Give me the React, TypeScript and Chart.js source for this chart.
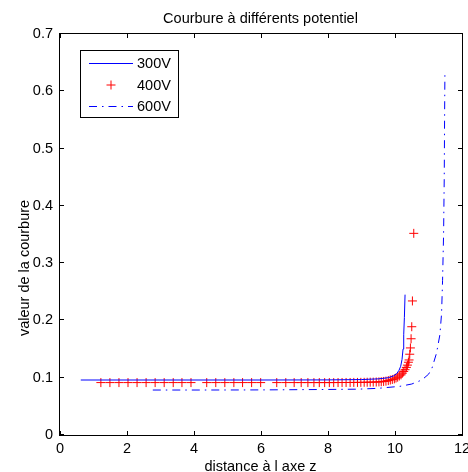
import React, { useEffect, useRef } from "react";
import { Chart, registerables } from "chart.js";

Chart.register(...registerables);

const TITLE = "Courbure à différents potentiel";
const X_LABEL = "distance à l axe z";
const Y_LABEL = "valeur de la courbure";
const SERIES_NAMES = ["300V", "400V", "600V"];
const X_TICKS = [0, 2, 4, 6, 8, 10, 12];
const Y_TICKS = [0, 0.1, 0.2, 0.3, 0.4, 0.5, 0.6, 0.7];

// 300V – solid line
const x300 = [0.62, 2, 4, 6, 8, 9, 9.5, 9.8, 9.95, 10.05, 10.12, 10.17, 10.21, 10.24, 10.26, 10.28, 10.3];
const y300 = [0.096, 0.096, 0.096, 0.096, 0.0962, 0.0968, 0.098, 0.1, 0.103, 0.107, 0.113, 0.12, 0.132, 0.15, 0.175, 0.205, 0.245];

// 400V – red plus markers
const x400 = [1.22, 1.49, 1.76, 2.03, 2.3, 2.57, 2.84, 3.11, 3.38, 3.64, 3.91, 4.38, 4.65, 4.92, 5.19, 5.45, 5.72, 5.99,
  6.47, 6.74, 6.99, 7.2, 7.4, 7.58, 7.74, 7.9, 8.04, 8.17, 8.3, 8.42, 8.54, 8.66, 8.77, 8.88, 8.98, 9.08, 9.17, 9.26,
  9.35, 9.44, 9.52, 9.59, 9.66, 9.73, 9.8, 9.86, 9.92, 9.98, 10.03, 10.08, 10.13, 10.18, 10.22, 10.26, 10.3, 10.34,
  10.37, 10.4, 10.42, 10.44, 10.46, 10.48, 10.5, 10.52, 10.56];
const y400 = [0.0915, 0.0915, 0.0915, 0.0915, 0.0915, 0.0915, 0.0915, 0.0915, 0.0915, 0.0915, 0.0915, 0.0915, 0.0915,
  0.0915, 0.0915, 0.0915, 0.0915, 0.0915, 0.0915, 0.0915, 0.0915, 0.0915, 0.0915, 0.0915, 0.0915, 0.0915, 0.0915,
  0.0915, 0.0916, 0.0916, 0.0917, 0.0917, 0.0918, 0.0918, 0.0919, 0.092, 0.0921, 0.0922, 0.0923, 0.0925, 0.0927,
  0.093, 0.0935, 0.094, 0.095, 0.096, 0.097, 0.098, 0.0995, 0.101, 0.103, 0.105, 0.108, 0.111, 0.114, 0.118, 0.122,
  0.127, 0.131, 0.141, 0.152, 0.168, 0.189, 0.234, 0.352];

// 600V – dash-dot line
const x600 = [2.77, 4, 6, 8, 8.9, 9.5, 10.15, 10.5, 10.8, 11.0, 11.1, 11.24, 11.34, 11.39, 11.42, 11.45, 11.47, 11.48, 11.49];
const y600 = [0.0785, 0.0785, 0.0787, 0.0795, 0.08, 0.0815, 0.085, 0.089, 0.096, 0.106, 0.116, 0.143, 0.175, 0.212, 0.27, 0.35, 0.45, 0.55, 0.634];

const FONT = "Arial, 'Liberation Sans', Helvetica, sans-serif";
const FSIZE = 14.5;
const BLUE = "rgb(0,0,255)";
const RED = "rgb(255,0,0)";
const DASH = [8, 5, 1.5, 5];

const pts = (xs: number[], ys: number[]) => xs.map((x, i) => ({ x, y: ys[i] }));

const decorPlugin = {
  id: "decor",
  afterDatasetsDraw(chart: any) {
    const ctx = chart.ctx;
    const { left, right, top, bottom } = chart.chartArea;
    const xs = chart.scales.x;
    const ys = chart.scales.y;
    ctx.save();
    ctx.strokeStyle = "#000";
    ctx.lineWidth = 1;
    ctx.setLineDash([]);
    ctx.strokeRect(left - 0.5, top - 0.5, right - left + 1, bottom - top + 1);
    const tl = 4;
    ctx.beginPath();
    X_TICKS.forEach((v) => {
      const px = Math.round(xs.getPixelForValue(v)) + 0.5;
      ctx.moveTo(px, bottom);
      ctx.lineTo(px, bottom - tl);
      ctx.moveTo(px, top);
      ctx.lineTo(px, top + tl);
    });
    Y_TICKS.forEach((v) => {
      const py = Math.round(ys.getPixelForValue(v)) - 0.5;
      ctx.moveTo(left, py);
      ctx.lineTo(left + tl, py);
      ctx.moveTo(right, py);
      ctx.lineTo(right - tl, py);
    });
    ctx.stroke();

    // title & axis labels
    ctx.fillStyle = "#000";
    ctx.font = `${FSIZE}px ${FONT}`;
    ctx.textAlign = "center";
    ctx.textBaseline = "alphabetic";
    ctx.fillText(TITLE, 260.5, 22.5);
    ctx.fillText(X_LABEL, 260.5, 470.5);
    ctx.save();
    ctx.translate(29, 268);
    ctx.rotate(-Math.PI / 2);
    ctx.fillText(Y_LABEL, 0, 0);
    ctx.restore();

    // legend
    const lx = 80.5, ly = 50.5, lw = 98, lh = 67;
    ctx.fillStyle = "#fff";
    ctx.fillRect(lx, ly, lw, lh);
    ctx.strokeStyle = "#000";
    ctx.strokeRect(lx, ly, lw, lh);
    const rows = [63.5, 85, 106.5];
    const ds = chart.data.datasets;
    rows.forEach((ry, i) => {
      const d = ds[i];
      ctx.save();
      if (i === 1) {
        ctx.strokeStyle = RED;
        ctx.beginPath();
        ctx.moveTo(111 - 4.5, ry);
        ctx.lineTo(111 + 4.5, ry);
        ctx.moveTo(111, ry - 4.5);
        ctx.lineTo(111, ry + 4.5);
        ctx.stroke();
      } else {
        ctx.strokeStyle = BLUE;
        ctx.setLineDash(i === 2 ? DASH : []);
        ctx.beginPath();
        ctx.moveTo(89, ry);
        ctx.lineTo(133, ry);
        ctx.stroke();
      }
      ctx.restore();
      ctx.fillStyle = "#000";
      ctx.textAlign = "left";
      ctx.textBaseline = "middle";
      ctx.font = `${FSIZE}px ${FONT}`;
      ctx.fillText(d.label, 137, ry + 0.5);
    });
    ctx.restore();
  },
};

export default function App() {
  const ref = useRef<HTMLCanvasElement | null>(null);
  useEffect(() => {
    if (!ref.current) return;
    Chart.defaults.font.family = FONT;
    Chart.defaults.font.size = FSIZE;
    Chart.defaults.color = "#000";
    const chart = new Chart(ref.current, {
      type: "scatter",
      data: {
        datasets: [
          {
            label: SERIES_NAMES[0],
            data: pts(x300, y300),
            showLine: true,
            borderColor: BLUE,
            borderWidth: 1,
            pointRadius: 0,
            tension: 0,
          },
          {
            label: SERIES_NAMES[1],
            data: pts(x400, y400),
            showLine: false,
            borderColor: RED,
            backgroundColor: RED,
            borderWidth: 1,
            pointStyle: "cross",
            pointRadius: 4.5,
          },
          {
            label: SERIES_NAMES[2],
            data: pts(x600, y600),
            showLine: true,
            borderColor: BLUE,
            borderWidth: 1,
            borderDash: DASH,
            pointRadius: 0,
            tension: 0,
          },
        ],
      },
      options: {
        animation: false,
        responsive: false,
        devicePixelRatio: 1,
        layout: { padding: { top: 34, right: 6, left: 0, bottom: 0 } },
        plugins: { legend: { display: false }, title: { display: false }, tooltip: { enabled: false } },
        scales: {
          x: {
            type: "linear",
            min: 0,
            max: 12,
            grid: { display: false, drawTicks: false },
            border: { display: false },
            afterBuildTicks: (s: any) => {
              s.ticks = X_TICKS.map((v) => ({ value: v }));
            },
            afterFit: (s: any) => {
              s.height = 37;
              s.paddingLeft = 0;
              s.paddingRight = 0;
            },
            ticks: {
              autoSkip: false,
              maxRotation: 0,
              padding: 5,
              color: "#000",
              font: { size: FSIZE, family: FONT },
              callback: (v: any) => String(Number(Number(v).toFixed(1))),
            },
          },
          y: {
            type: "linear",
            min: 0,
            max: 0.7,
            grid: { display: false, drawTicks: false },
            border: { display: false },
            afterBuildTicks: (s: any) => {
              s.ticks = Y_TICKS.map((v) => ({ value: v }));
            },
            afterFit: (s: any) => {
              s.width = 60;
              s.paddingTop = 0;
              s.paddingBottom = 0;
            },
            ticks: {
              autoSkip: false,
              padding: 7,
              color: "#000",
              font: { size: FSIZE, family: FONT },
              callback: (v: any) => String(Number(Number(v).toFixed(1))),
            },
          },
        },
      },
      plugins: [decorPlugin],
    });
    return () => chart.destroy();
  }, []);
  return (
    <div style={{ position: "absolute", left: 0, top: 0, width: 468, height: 472, background: "#fff" }}>
      <canvas ref={ref} width={468} height={472} style={{ display: "block", width: 468, height: 472 }} />
    </div>
  );
}
